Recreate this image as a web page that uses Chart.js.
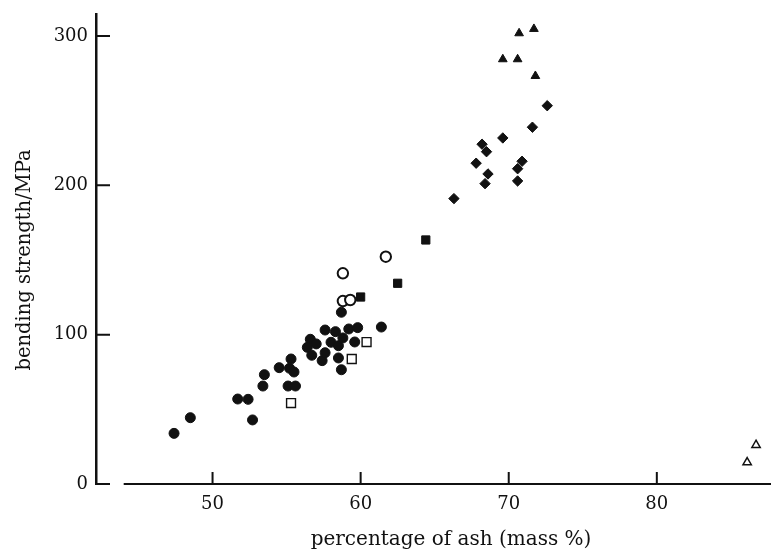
<!DOCTYPE html>
<html>
<head>
<meta charset="utf-8">
<title>Bending strength vs ash</title>
<script src="https://cdn.jsdelivr.net/npm/chart.js@4.4.0/dist/chart.umd.min.js"></script>
<style>
  html, body { margin: 0; padding: 0; background: #fff; }
  #wrap { width: 771px; height: 549px; }
</style>
</head>
<body>
<div id="wrap"><canvas id="chart"></canvas></div>
<script>
// percentage of ash (mass %) / bending strength (MPa)
const filledCircleAsh = [47.4, 48.5, 51.7, 52.4, 52.7, 53.5, 53.4, 54.5, 55.3, 55.2, 55.5, 55.1, 55.6,
  56.6, 57.0, 56.4, 56.7, 57.4, 57.6, 57.6, 58.3, 58.0, 58.5, 58.8, 59.2, 59.8, 59.6, 58.5, 58.7, 58.7, 61.4];
const filledCircleStrength = [33.9, 44.4, 56.9, 56.7, 42.9, 73.2, 65.6, 77.9, 83.7, 77.5, 75.0, 65.6, 65.6,
  96.9, 93.8, 91.5, 86.2, 82.6, 87.9, 103.1, 102.0, 94.9, 92.6, 97.8, 103.8, 104.7, 95.1, 84.4, 76.5, 115.0, 105.1];

const openSquareAsh = [55.3, 59.4, 60.4];
const openSquareStrength = [54.2, 83.7, 95.0];

const openCircleAsh = [58.8, 59.3, 58.8, 61.7];
const openCircleStrength = [122.5, 123.2, 141.1, 152.2];

const filledSquareAsh = [60.0, 62.5, 64.4];
const filledSquareStrength = [125.2, 134.4, 163.4];

const diamondAsh = [66.3, 67.8, 68.2, 68.5, 68.6, 68.4, 69.6, 70.6, 70.6, 70.9, 71.6, 72.6];
const diamondStrength = [191.1, 214.8, 227.5, 222.5, 207.6, 201.1, 231.7, 202.9, 211.1, 216.1, 238.9, 253.3];

const filledTriangleAsh = [69.6, 70.6, 70.7, 71.7, 71.8];
const filledTriangleStrength = [284.4, 284.4, 301.8, 304.7, 273.2];

const openTriangleAsh = [86.1, 86.7];
const openTriangleStrength = [14.5, 26.1];

const xTicks = [50, 60, 70, 80];
const yTicks = [0, 100, 200, 300];
const xAxisStart = 44;

const xTitle = 'percentage of ash (mass %)';
const yTitle = 'bending strength/MPa';

const INK = '#111';
const SERIF = '"DejaVu Serif", "Liberation Serif", serif';

function pairs(xs, ys) {
  return xs.map((x, i) => ({ x: x, y: ys[i] }));
}

function series(xs, ys, style, radius, filled, lineWidth) {
  return {
    data: pairs(xs, ys),
    pointStyle: style,
    pointRadius: radius,
    pointHoverRadius: radius,
    pointBackgroundColor: filled ? INK : '#fff',
    pointBorderColor: INK,
    pointBorderWidth: lineWidth,
    showLine: false,
    clip: false,
  };
}

// axis line along the bottom and ticks pointing into the plot, as in the printed figure
const inwardTicks = {
  id: 'inwardTicks',
  afterDatasetsDraw(chart) {
    const { ctx, chartArea, scales } = chart;
    const x = scales.x;
    const y = scales.y;
    ctx.save();
    ctx.strokeStyle = INK;
    ctx.lineWidth = 2;
    ctx.beginPath();
    ctx.moveTo(x.getPixelForValue(xAxisStart), chartArea.bottom);
    ctx.lineTo(chart.width, chartArea.bottom);
    y.ticks.forEach(t => {
      const py = y.getPixelForValue(t.value);
      ctx.moveTo(chartArea.left, py);
      ctx.lineTo(chartArea.left + 14, py);
    });
    x.ticks.forEach(t => {
      const px = x.getPixelForValue(t.value);
      ctx.moveTo(px, chartArea.bottom);
      ctx.lineTo(px, chartArea.bottom - 12);
    });
    ctx.stroke();
    ctx.restore();
  }
};

// axis titles sit a little off-centre in the original, so place them by hand
const axisTitles = {
  id: 'axisTitles',
  afterDraw(chart) {
    const ctx = chart.ctx;
    ctx.save();
    ctx.fillStyle = INK;
    ctx.font = '20px ' + SERIF;
    ctx.textAlign = 'center';
    ctx.textBaseline = 'alphabetic';
    ctx.fillText(xTitle, 451, 545);
    ctx.translate(30, 260);
    ctx.rotate(-Math.PI / 2);
    ctx.font = '19.5px ' + SERIF;
    ctx.fillText(yTitle, 0, 0);
    ctx.restore();
  }
};

new Chart(document.getElementById('chart'), {
  type: 'scatter',
  data: {
    datasets: [
      series(filledCircleAsh, filledCircleStrength, 'circle', 5, true, 1),
      series(openSquareAsh, openSquareStrength, 'rect', 6.3, false, 1.4),
      series(openCircleAsh, openCircleStrength, 'circle', 5.2, false, 2),
      series(filledSquareAsh, filledSquareStrength, 'rect', 5.8, true, 1),
      series(diamondAsh, diamondStrength, 'rectRot', 5.2, true, 1),
      series(filledTriangleAsh, filledTriangleStrength, 'triangle', 5, true, 1),
      series(openTriangleAsh, openTriangleStrength, 'triangle', 4.8, false, 1.5),
    ]
  },
  options: {
    responsive: true,
    maintainAspectRatio: false,
    animation: false,
    layout: { padding: { top: 14, right: 1, left: 0, bottom: 0 } },
    plugins: {
      legend: { display: false },
      tooltip: { enabled: false },
    },
    scales: {
      x: {
        type: 'linear',
        bounds: 'data',
        // plot area ends at 766px (label margin), the printed axis runs on to the edge
        min: 42.13,
        max: 87.19,
        afterBuildTicks: s => { s.ticks = xTicks.map(v => ({ value: v })); },
        afterFit: s => { s.height = 65; s.paddingLeft = 0; s.paddingRight = 0; },
        grid: { display: false, drawTicks: false },
        border: { display: false },
        ticks: { color: INK, padding: 10, font: { family: SERIF, size: 18 } },
      },
      y: {
        type: 'linear',
        bounds: 'data',
        min: 0,
        max: 314.7,
        afterBuildTicks: s => { s.ticks = yTicks.map(v => ({ value: v })); },
        afterFit: s => { s.width = 96; s.paddingTop = 0; s.paddingBottom = 0; },
        grid: { display: false, drawTicks: false },
        border: { display: true, color: INK, width: 2.5 },
        ticks: { color: INK, padding: 8, font: { family: SERIF, size: 18 } },
      },
    },
  },
  plugins: [inwardTicks, axisTitles],
});
</script>
</body>
</html>
